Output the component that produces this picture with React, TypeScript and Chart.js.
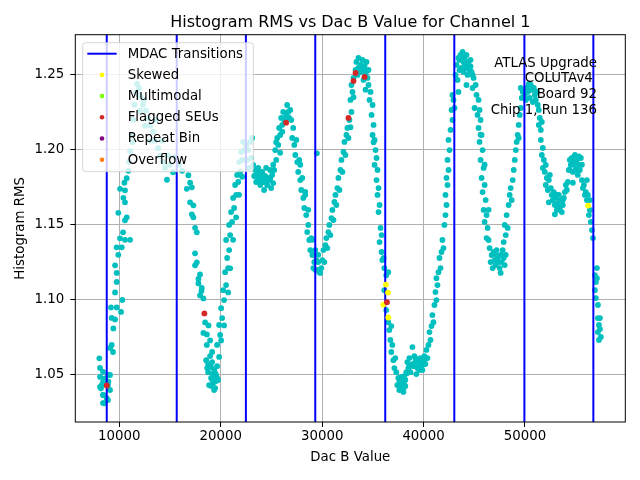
import { useEffect, useRef } from "react";
import { Chart } from "chart.js/auto";

type Pt = [number, number];

// DAC B values where the MDAC transitions sit
const mdacTransitions = [8760, 15660, 22480, 29320, 36220, 43030, 49940, 56740];
const xTicks = [10000, 20000, 30000, 40000, 50000];
const yTicks = [1.05, 1.1, 1.15, 1.2, 1.25];
const X_MIN = 5660;
const X_MAX = 59890;
const Y_MIN = 1.0187;
const Y_MAX = 1.2766;

// histogram RMS vs DAC B, one MDAC range at a time
const range0: Pt[] = [
  [8100, 1.0547], [8390, 1.0521], [8880, 1.05], [8100, 1.0487], [8390, 1.0454], [8880, 1.0434],
  [8100, 1.042], [9080, 1.04], [8390, 1.0367], [8880, 1.0333], [8390, 1.0313], [9250, 1.07],
  [9380, 1.0653], [8030, 1.0611], [8260, 1.0433], [8590, 1.0478], [8920, 1.0455], [8420, 1.0367],
  [8760, 1.0345], [9080, 1.05], [8520, 1.0312], [8190, 1.0411],
];

const range1: Pt[] = [
  [9090, 1.068], [9410, 1.081], [9250, 1.088], [9580, 1.087], [9180, 1.095], [9740, 1.095],
  [10170, 1.092], [9580, 1.105], [10300, 1.1], [9740, 1.112], [9740, 1.118], [9580, 1.123],
  [9900, 1.13], [9740, 1.135], [10240, 1.135], [10070, 1.141], [10560, 1.14], [11060, 1.14],
  [10370, 1.145], [10560, 1.153], [10730, 1.155], [9900, 1.158], [10560, 1.165], [10400, 1.168],
  [10070, 1.174], [10560, 1.173], [10500, 1.178], [10730, 1.181], [10890, 1.186],
  [11070, 1.199], [11190, 1.21], [11390, 1.22], [11490, 1.23], [11650, 1.238], [11750, 1.244],
  [11950, 1.241], [12140, 1.235], [12340, 1.23], [12640, 1.226], [12830, 1.221], [13030, 1.216],
  [13330, 1.212], [13520, 1.206], [13820, 1.201], [14020, 1.196], [14310, 1.192], [14510, 1.188],
  [11850, 1.237], [12440, 1.233], [13030, 1.206], [13620, 1.22], [14210, 1.206], [14800, 1.196],
  [12540, 1.216], [12040, 1.226], [10950, 1.192], [11300, 1.205], [15000, 1.19], [15300, 1.185],
  [14700, 1.18], [15500, 1.195],
];

const range2: Pt[] = [
  [15900, 1.19], [16200, 1.186],
  [16810, 1.183], [16980, 1.178], [16650, 1.174], [17150, 1.175], [16980, 1.165], [17300, 1.163],
  [17150, 1.157], [17300, 1.155], [17470, 1.148], [17640, 1.145], [17470, 1.131], [17640, 1.125],
  [17470, 1.123], [17960, 1.117], [17800, 1.114], [17800, 1.111], [18130, 1.108], [18100, 1.106],
  [17960, 1.103], [18290, 1.101], [18460, 1.085], [18790, 1.083], [18290, 1.078], [18630, 1.077],
  [18950, 1.073], [18630, 1.07],
  [18560, 1.0599], [18850, 1.0566], [19150, 1.0586], [18760, 1.0519], [19350, 1.0533], [19050, 1.048],
  [19540, 1.05], [19250, 1.0447], [18850, 1.0433], [19740, 1.0467], [19450, 1.0413], [19640, 1.0559],
  [18660, 1.0546], [19150, 1.0653], [19840, 1.062], [18950, 1.0626], [19350, 1.04], [19050, 1.0427],
  [19540, 1.046], [19250, 1.0506], [19150, 1.047], [18760, 1.0573], [19450, 1.0513], [19640, 1.048],
  [19050, 1.0553],
  [19640, 1.07], [19940, 1.0767], [19840, 1.0833], [20140, 1.0879], [20040, 1.0945], [20330, 1.0999],
  [20240, 1.1065], [20530, 1.1099], [20430, 1.1185], [20730, 1.1212], [20630, 1.1279], [20830, 1.1332],
  [20530, 1.1399], [20930, 1.1432], [20830, 1.1499], [21120, 1.1519], [21020, 1.1585], [21320, 1.1612],
  [21220, 1.1679], [21520, 1.1699], [21420, 1.1765], [21720, 1.1785], [21620, 1.1832], [21910, 1.1852],
  [21810, 1.1918], [22110, 1.1932], [22010, 1.1985], [22310, 1.1998], [22210, 1.2052],
  [20040, 1.073], [20330, 1.083], [20730, 1.105], [20930, 1.121], [21220, 1.14], [21520, 1.155],
  [21810, 1.17], [22110, 1.182],
];

const range3: Pt[] = [
  [22510, 1.2032], [22700, 1.1998], [22900, 1.2052], [23100, 1.2078], [22610, 1.1932], [22800, 1.1879],
  [23000, 1.1945], [23200, 1.1899], [23390, 1.1865], [23590, 1.1832], [23790, 1.1852], [23990, 1.1812],
  [24180, 1.1785], [24380, 1.1825], [24580, 1.1765], [24780, 1.1798], [24970, 1.1745], [25170, 1.1778],
  [23490, 1.1785], [23890, 1.1765], [24280, 1.1732], [24680, 1.1812], [25070, 1.1832], [23300, 1.1825],
  [23690, 1.1879], [24080, 1.1852], [24480, 1.1879], [24870, 1.1865],
  [23690, 1.1805], [24080, 1.1785], [24480, 1.1792], [23890, 1.184], [24870, 1.1805],
  [25270, 1.1865], [25470, 1.1932], [25370, 1.1998], [25670, 1.2032], [25570, 1.2078], [25860, 1.2098],
  [25760, 1.2145], [26060, 1.2165], [25960, 1.2212], [26260, 1.2198], [26160, 1.2252], [26450, 1.2232],
  [26650, 1.2252], [26550, 1.2298], [26850, 1.2265], [26750, 1.2212],
  [25170, 1.19], [25470, 1.205], [25860, 1.198], [26060, 1.212],
  [26950, 1.2198], [27150, 1.2145], [27050, 1.2078], [27250, 1.2032], [27450, 1.2065], [27350, 1.1965],
  [27540, 1.1918], [27740, 1.1932], [27640, 1.1852], [27840, 1.1798], [28040, 1.1812], [27940, 1.1732],
  [28140, 1.1679], [28330, 1.1699], [28240, 1.1612], [28430, 1.1565], [28630, 1.1499], [28530, 1.1452],
  [28730, 1.1399], [28930, 1.1412], [28830, 1.1332], [29030, 1.1299], [29220, 1.1252], [29130, 1.1212],
  [27840, 1.19], [28330, 1.172], [28630, 1.16], [29030, 1.14],
];

const range4: Pt[] = [
  [29420, 1.1265], [29320, 1.1332], [29520, 1.1199], [29720, 1.1185], [29620, 1.1252], [29820, 1.118],
  [29480, 1.1976], [29320, 1.12], [29620, 1.13],
  [29920, 1.1212], [30020, 1.1265], [30220, 1.1252], [30120, 1.1332], [30320, 1.1365], [30510, 1.1345],
  [30410, 1.1412], [30610, 1.1452], [30810, 1.1432], [30710, 1.1499], [30910, 1.1545], [31110, 1.1532],
  [31010, 1.1599], [31210, 1.1652], [31400, 1.1632], [31310, 1.1699], [31500, 1.1745], [31700, 1.1732],
  [31600, 1.1812], [31800, 1.1865], [32000, 1.1852], [31900, 1.1932], [32100, 1.1985], [32290, 1.1965],
  [32200, 1.2052], [32390, 1.2098], [32590, 1.2078], [32490, 1.2145], [32690, 1.2198], [32890, 1.2252],
  [32790, 1.2332], [32990, 1.2385], [32890, 1.2431], [33090, 1.2478],
  [33290, 1.2531], [33380, 1.2585], [33580, 1.2611], [33780, 1.2565], [33980, 1.2598], [34180, 1.2558],
  [34370, 1.2585], [33480, 1.2498], [33880, 1.2518], [34280, 1.2505], [34570, 1.2531], [34080, 1.2465],
  [33680, 1.2545], [34470, 1.2478], [33580, 1.2545], [33780, 1.2525], [34080, 1.2531], [33380, 1.2511],
  [34370, 1.2525],
  [34570, 1.2431], [34770, 1.2385], [34670, 1.2332], [34970, 1.2298], [34870, 1.2232], [35070, 1.2165],
  [34970, 1.2098], [35170, 1.2065], [35260, 1.1998], [35360, 1.1945], [35170, 1.1899], [35460, 1.1865],
  [35360, 1.1798], [35560, 1.1745], [35460, 1.1699], [35660, 1.1632], [35560, 1.1585], [35760, 1.1479],
  [35860, 1.1432], [35660, 1.1385], [35860, 1.1319], [36060, 1.1279],
  [33090, 1.235], [32790, 1.215], [34280, 1.24], [35070, 1.205],
];

const range5: Pt[] = [
  [35930, 1.1265], [36130, 1.1212], [36320, 1.1165], [36520, 1.1185], [36130, 1.1065],
  [36320, 1.0932], [36520, 1.0852], [36620, 1.0799], [36820, 1.0826], [36720, 1.0733], [36920, 1.07],
  [36820, 1.0653], [37020, 1.0599], [37210, 1.0613], [37120, 1.0546], [37310, 1.0519], [37510, 1.048],
  [37410, 1.0433], [37610, 1.04], [37810, 1.0413], [37710, 1.0467], [37910, 1.0453], [38010, 1.0387],
  [38200, 1.0427], [38110, 1.0493], [38300, 1.0519], [38500, 1.0546], [38400, 1.0586], [38600, 1.0613],
  [38800, 1.0566], [38700, 1.0519], [38990, 1.0559], [38900, 1.0686], [39090, 1.0626], [39190, 1.0586],
  [39390, 1.0546], [39290, 1.0506], [39590, 1.0533], [39490, 1.0586], [39790, 1.0559], [39690, 1.0613],
  [39980, 1.0586], [39880, 1.0533], [40180, 1.0573], [40080, 1.0626], [40380, 1.0613], [40280, 1.0667],
  [37610, 1.045], [37810, 1.0487], [38010, 1.044], [37910, 1.0413], [38110, 1.042], [37710, 1.0433],
  [38200, 1.0467], [38400, 1.0513], [38600, 1.0566], [38900, 1.0573], [39190, 1.0613], [39490, 1.0553],
  [39880, 1.0566], [40180, 1.0606],
  [40480, 1.07], [40680, 1.0733], [40580, 1.0786], [40780, 1.0826], [40970, 1.0852], [40870, 1.0899],
  [41070, 1.0966], [41270, 1.0999], [41170, 1.1052], [41370, 1.1099], [41270, 1.1145], [41470, 1.1185],
  [41670, 1.1212], [41570, 1.1279], [41770, 1.1319], [41960, 1.1345], [41860, 1.1399], [42060, 1.1499],
  [42160, 1.1565], [42260, 1.1632], [42160, 1.1699], [42360, 1.1765], [42260, 1.1812], [42460, 1.1865],
  [42360, 1.1932], [42560, 1.1998], [42460, 1.2065], [42660, 1.2132], [42850, 1.2198], [42760, 1.2265],
  [42950, 1.2332], [42850, 1.2365],
];

const range6: Pt[] = [
  [43050, 1.2278], [43150, 1.2498], [43250, 1.2565], [43440, 1.2611], [43640, 1.2631], [43840, 1.2651],
  [44040, 1.2611], [44230, 1.2631], [44430, 1.2585], [44630, 1.2598], [43350, 1.2465], [43540, 1.2531],
  [43740, 1.2545], [43940, 1.2518], [44140, 1.2545], [44330, 1.2498], [44530, 1.2531], [44730, 1.2518],
  [44930, 1.2478], [43440, 1.2385], [44830, 1.2411], [44230, 1.2431], [45130, 1.2431], [45220, 1.2365],
  [43540, 1.2598], [43740, 1.2611], [44040, 1.2578], [44330, 1.2565], [43940, 1.2585], [44630, 1.2555],
  [44830, 1.2498],
  [45420, 1.2332], [45030, 1.2278], [45320, 1.2232], [45520, 1.2265], [45620, 1.2198], [45420, 1.2145],
  [45720, 1.2098], [45520, 1.2052], [45820, 1.1998], [45620, 1.1932], [45920, 1.1879], [45720, 1.1812],
  [46020, 1.1765], [45820, 1.1718], [46120, 1.1665], [45920, 1.1599], [46210, 1.1565], [46020, 1.1519],
  [46310, 1.1479], [46210, 1.1412], [46410, 1.1399], [46510, 1.1345], [46710, 1.1299], [46610, 1.1252],
  [46810, 1.1212], [47010, 1.1265], [46910, 1.1319], [47110, 1.1232], [47300, 1.1279], [47200, 1.1332],
  [47400, 1.1252], [47600, 1.1299], [47500, 1.1212], [47700, 1.1252], [47900, 1.1279], [47800, 1.1332],
  [48000, 1.1232], [47900, 1.1385], [48100, 1.1432], [48000, 1.1499], [48190, 1.1565], [48290, 1.1479],
  [48390, 1.1632], [48490, 1.1699], [48590, 1.1745], [48690, 1.1665], [48790, 1.1798], [48890, 1.1865],
  [48990, 1.1932], [49090, 1.1998], [49180, 1.2052], [49280, 1.2098], [49380, 1.2165], [49480, 1.2232],
  [49580, 1.2278], [49380, 1.2078], [49680, 1.2345], [49780, 1.2385], [49580, 1.2411],
  [45620, 1.21], [46020, 1.19], [46410, 1.16], [47110, 1.13], [47600, 1.118], [48100, 1.13],
];

const range7: Pt[] = [
  [49980, 1.2365], [50080, 1.2332], [50180, 1.2411], [50280, 1.2385], [50380, 1.2438], [50470, 1.2345],
  [50570, 1.2431], [50670, 1.2398], [50770, 1.2318], [50870, 1.2411], [50970, 1.2365], [51060, 1.2332],
  [51160, 1.2385], [51260, 1.2298], [51360, 1.2265], [51460, 1.2212], [51360, 1.2165], [51560, 1.2132],
  [51660, 1.2185], [51560, 1.2065], [51760, 1.2012], [51660, 1.1965], [51860, 1.1932], [51760, 1.1879],
  [51950, 1.1852], [52050, 1.1899], [52150, 1.1812], [52050, 1.1765], [52250, 1.1732], [52350, 1.1798],
  [52450, 1.1832], [52550, 1.1745], [52640, 1.1699], [52740, 1.1665], [52840, 1.1718], [52940, 1.1632],
  [53040, 1.1679], [53140, 1.1599], [53240, 1.1645], [53340, 1.1699], [53430, 1.1612], [53530, 1.1665],
  [53630, 1.1585], [53730, 1.1632], [53830, 1.1679], [53930, 1.1718], [54030, 1.1765], [54130, 1.1732],
  [54220, 1.1785], [54320, 1.1865], [54420, 1.1932], [54520, 1.1899], [54620, 1.1945], [54720, 1.1852],
  [54820, 1.1918], [54920, 1.1965], [55020, 1.1879], [55110, 1.1932], [55210, 1.1832], [55310, 1.1899],
  [55410, 1.1865], [55510, 1.1945], [55610, 1.1798], [55710, 1.1745], [55810, 1.1765], [55910, 1.1699],
  [56000, 1.1718], [56100, 1.1665], [56200, 1.1699], [56300, 1.1565], [56400, 1.1599], [56500, 1.1519],
  [56600, 1.1465], [56700, 1.1412], [56400, 1.1665], [56100, 1.1798],
  [52350, 1.165], [53140, 1.17], [52940, 1.157], [55610, 1.19], [54720, 1.178],
  [54420, 1.1865], [54920, 1.1905], [55310, 1.1955], [55110, 1.1865], [53330, 1.1625], [53730, 1.1665],
];

const range8: Pt[] = [
  [56890, 1.1165], [56990, 1.1119], [56890, 1.1065], [57090, 1.1145], [56990, 1.1012], [57190, 1.0966],
  [57090, 1.1212], [57190, 1.0879], [57290, 1.0833], [57190, 1.0786], [57390, 1.0806], [57290, 1.0733],
  [57480, 1.0753], [57390, 1.0879],
];

const skewedPoints: Pt[] = [
  [36290, 1.1102], [36490, 1.1049], [36030, 1.0969], [36520, 1.0883], [56230, 1.1628],
];

const flaggedSEUs: Pt[] = [
  [8760, 1.043], [18390, 1.091], [26450, 1.218], [32590, 1.2212], [33090, 1.2458], [33290, 1.2511],
  [34180, 1.2485], [36390, 1.0985],
];

const legendItems = [
  { label: "MDAC Transitions", color: "#0000ff", line: true },
  { label: "Skewed", color: "#ffff00", line: false },
  { label: "Multimodal", color: "#7cfc00", line: false },
  { label: "Flagged SEUs", color: "#d62728", line: false },
  { label: "Repeat Bin", color: "#800080", line: false },
  { label: "Overflow", color: "#ff7f0e", line: false },
];

const infoLines = ["ATLAS Upgrade", "COLUTAv4 ", "Board 92", "Chip 1, Run 136"];
const TITLE = "Histogram RMS vs Dac B Value for Channel 1";
const FONT = '"DejaVu Sans", sans-serif';

const toXY = (pts: Pt[]) => pts.map(([x, y]) => ({ x, y }));

// title, spines, text box and legend drawn on top like matplotlib does
const decorPlugin = {
  id: "decor",
  afterDraw(chart: Chart) {
    const { ctx, chartArea: a } = chart;
    ctx.save();
    ctx.strokeStyle = "#000";
    ctx.lineWidth = 1;
    ctx.strokeRect(a.left, a.top, a.right - a.left, a.bottom - a.top);

    ctx.fillStyle = "#000";
    ctx.font = `16px ${FONT}`;
    ctx.textAlign = "center";
    ctx.textBaseline = "alphabetic";
    ctx.fillText(TITLE, (a.left + a.right) / 2, a.top - 7.7);

    ctx.font = `13.33px ${FONT}`;
    ctx.textAlign = "right";
    infoLines.forEach((t, i) => ctx.fillText(t, a.right - 28.3, a.top + 31.8 + i * 15.8));

    // legend box
    const lx = a.left + 7.4;
    const ly = a.top + 8;
    ctx.beginPath();
    ctx.roundRect(lx, ly, 170.6, 129, 3);
    ctx.fillStyle = "rgba(255,255,255,0.8)";
    ctx.fill();
    ctx.strokeStyle = "rgba(204,204,204,0.8)";
    ctx.lineWidth = 1;
    ctx.stroke();
    ctx.textAlign = "left";
    ctx.textBaseline = "middle";
    legendItems.forEach((item, i) => {
      const cy = ly + 11 + i * 21.2;
      if (item.line) {
        ctx.strokeStyle = item.color;
        ctx.lineWidth = 2;
        ctx.beginPath();
        ctx.moveTo(lx + 4.6, cy);
        ctx.lineTo(lx + 34, cy);
        ctx.stroke();
      } else {
        ctx.fillStyle = item.color;
        ctx.beginPath();
        ctx.arc(lx + 19.3, cy, 2.3, 0, Math.PI * 2);
        ctx.fill();
      }
      ctx.fillStyle = "#000";
      ctx.fillText(item.label, lx + 45, cy + 0.5);
    });
    ctx.restore();
  },
};

export default function App() {
  const canvasRef = useRef<HTMLCanvasElement>(null);

  useEffect(() => {
    if (!canvasRef.current) return;
    Chart.defaults.font.family = FONT;
    Chart.defaults.font.size = 13.33;
    Chart.defaults.color = "#000";

    const cyan = [range0, range1, range2, range3, range4, range5, range6, range7, range8].flat();
    const mdacLines = mdacTransitions.flatMap((x) => [
      { x, y: Y_MIN },
      { x, y: Y_MAX },
      { x, y: NaN },
    ]);

    const chart = new Chart(canvasRef.current, {
      type: "scatter",
      data: {
        datasets: [
          {
            label: "data",
            data: toXY(cyan),
            backgroundColor: "#00bfbf",
            pointRadius: 2.9,
            pointBorderWidth: 0,
            order: 3,
          },
          {
            type: "line",
            label: "MDAC Transitions",
            data: mdacLines,
            borderColor: "#0000ff",
            borderWidth: 2,
            pointRadius: 0,
            showLine: true,
            spanGaps: false,
            order: 2,
          },
          {
            label: "Skewed",
            data: toXY(skewedPoints),
            backgroundColor: "#ffff00",
            pointRadius: 2.9,
            pointBorderWidth: 0,
            order: 1,
          },
          {
            label: "Flagged SEUs",
            data: toXY(flaggedSEUs),
            backgroundColor: "#d62728",
            pointRadius: 2.9,
            pointBorderWidth: 0,
            order: 0,
          },
        ],
      },
      options: {
        animation: false,
        responsive: false,
        events: [],
        layout: { padding: { top: 34.7, right: 14.7, left: 0, bottom: 0 } },
        plugins: {
          legend: { display: false },
          title: { display: false },
          tooltip: { enabled: false },
        },
        scales: {
          x: {
            type: "linear",
            min: X_MIN,
            max: X_MAX,
            afterBuildTicks: (s: any) => {
              s.ticks = xTicks.map((value) => ({ value }));
            },
            afterFit: (s: any) => {
              s.height = 58;
            },
            ticks: { color: "#000", padding: 2, maxRotation: 0, autoSkip: false, callback: (v: any) => String(v) },
            grid: { color: "#b0b0b0", lineWidth: 1, tickColor: "#000", tickLength: 5 },
            border: { display: false },
            title: { display: true, text: "Dac B Value", color: "#000", padding: { top: 0, bottom: 14 } },
          },
          y: {
            type: "linear",
            min: Y_MIN,
            max: Y_MAX,
            afterBuildTicks: (s: any) => {
              s.ticks = yTicks.map((value) => ({ value }));
            },
            afterFit: (s: any) => {
              s.width = 75.3;
            },
            ticks: { color: "#000", padding: 6, autoSkip: false, callback: (v: any) => Number(v).toFixed(2) },
            grid: { color: "#b0b0b0", lineWidth: 1, tickColor: "#000", tickLength: 5 },
            border: { display: false },
            title: { display: true, text: "Histogram RMS", color: "#000", padding: { top: 12.5, bottom: 0 } },
          },
        },
      },
      plugins: [decorPlugin],
    });

    return () => chart.destroy();
  }, []);

  return (
    <div style={{ position: "fixed", left: 0, top: 0, width: 640, height: 480, background: "#fff" }}>
      <canvas ref={canvasRef} width={640} height={480} style={{ display: "block" }} />
    </div>
  );
}
